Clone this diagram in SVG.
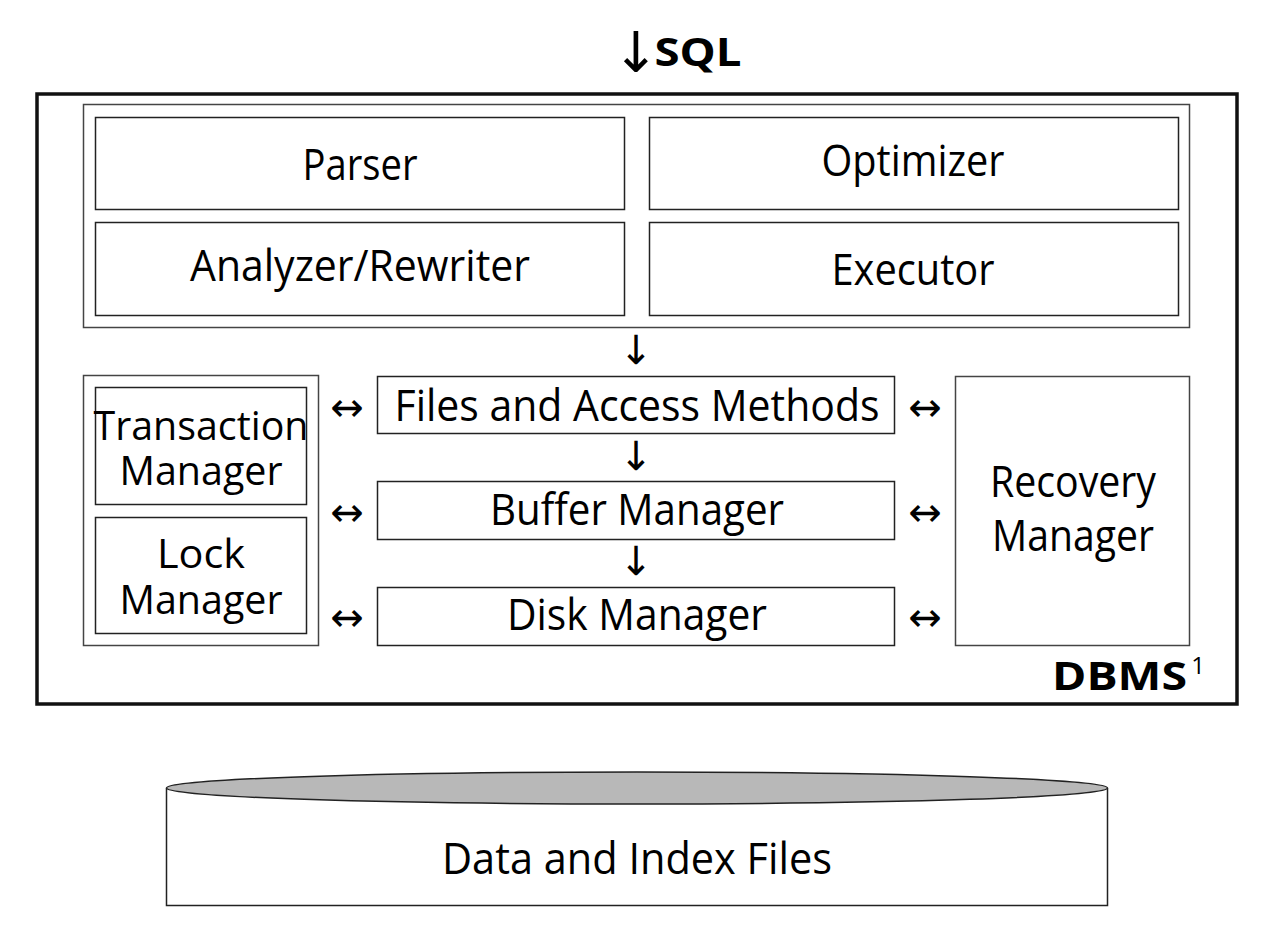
<svg xmlns="http://www.w3.org/2000/svg" width="1272" height="931" viewBox="0 0 1272 931">
<style>
text{font-family:"Open Sans","DejaVu Sans",sans-serif;fill:#000;text-anchor:middle}
.lbl{font-size:43px}
.two{font-size:40px}
.box{fill:#fff;stroke:#222;stroke-width:1.5}
.grp{fill:#fff;stroke:#444;stroke-width:1.5}
.arr{font-size:40px;font-family:"DejaVu Sans",sans-serif}
.bold{font-weight:bold}
</style>
<rect width="1272" height="931" fill="#fff"/>
<g id="sql">
<text x="636" y="72" style="font-size:56px;font-family:'DejaVu Sans',sans-serif">↓</text>
<text x="698" y="66" class="bold" style="font-size:40px" textLength="87" lengthAdjust="spacingAndGlyphs">SQL</text>
</g>
<g id="dbms">
<rect x="37" y="94" width="1200" height="610" fill="#fff" stroke="#111" stroke-width="3.5"/>
<text x="1187" y="690" class="bold" style="font-size:40px;text-anchor:end" textLength="135" lengthAdjust="spacingAndGlyphs">DBMS</text>
<text x="1198" y="674" style="font-size:24px">1</text>
</g>
<g id="query-group"><rect x="83.5" y="104.5" width="1106" height="223" class="grp"/></g>
<g id="parser"><rect x="95.5" y="117.5" width="529" height="92" class="box"/><text x="360" y="180" class="lbl" textLength="115" lengthAdjust="spacingAndGlyphs">Parser</text></g>
<g id="optimizer"><rect x="649.5" y="117.5" width="529" height="92" class="box"/><text x="913" y="176" class="lbl" textLength="183" lengthAdjust="spacingAndGlyphs">Optimizer</text></g>
<g id="analyzer"><rect x="95.5" y="222.5" width="529" height="93" class="box"/><text x="360" y="281" class="lbl" textLength="340" lengthAdjust="spacingAndGlyphs">Analyzer/Rewriter</text></g>
<g id="executor"><rect x="649.5" y="222.5" width="529" height="93" class="box"/><text x="913" y="285" class="lbl" textLength="163" lengthAdjust="spacingAndGlyphs">Executor</text></g>
<g id="left-group"><rect x="83.5" y="375.5" width="235" height="270" class="grp"/></g>
<g id="transaction"><rect x="95.5" y="387.5" width="211" height="117" class="box"/><text x="201" y="440" class="two" textLength="215" lengthAdjust="spacingAndGlyphs">Transaction</text><text x="201" y="485" class="two" textLength="163" lengthAdjust="spacingAndGlyphs">Manager</text></g>
<g id="lock"><rect x="95.5" y="517.5" width="211" height="116" class="box"/><text x="201" y="568" class="two" textLength="88" lengthAdjust="spacingAndGlyphs">Lock</text><text x="201" y="614" class="two" textLength="163" lengthAdjust="spacingAndGlyphs">Manager</text></g>
<g id="files"><rect x="377.5" y="376.5" width="517" height="57" class="box"/><text x="637" y="421" class="lbl" textLength="485" lengthAdjust="spacingAndGlyphs">Files and Access Methods</text></g>
<g id="buffer"><rect x="377.5" y="481.5" width="517" height="58" class="box"/><text x="637" y="525" class="lbl" textLength="294" lengthAdjust="spacingAndGlyphs">Buffer Manager</text></g>
<g id="disk"><rect x="377.5" y="587.5" width="517" height="58" class="box"/><text x="637" y="630" class="lbl" textLength="260" lengthAdjust="spacingAndGlyphs">Disk Manager</text></g>
<g id="recovery"><rect x="955.5" y="376.5" width="234" height="269" class="grp"/><text x="1073" y="497" class="lbl" textLength="166" lengthAdjust="spacingAndGlyphs">Recovery</text><text x="1073" y="551" class="lbl" textLength="162" lengthAdjust="spacingAndGlyphs">Manager</text></g>
<g id="connectors">
<text x="636" y="364" class="arr">↓</text>
<text x="636" y="470" class="arr">↓</text>
<text x="636" y="575" class="arr">↓</text>
<text x="347" y="421" class="arr">↔</text>
<text x="347" y="526" class="arr">↔</text>
<text x="347" y="631" class="arr">↔</text>
<text x="925" y="421" class="arr">↔</text>
<text x="925" y="526" class="arr">↔</text>
<text x="925" y="631" class="arr">↔</text>
</g>
<g id="storage">
<path d="M166.5 788 L166.5 905.5 L1107.5 905.5 L1107.5 788" fill="#fff" stroke="#222" stroke-width="1.5"/>
<ellipse cx="637" cy="788" rx="470.5" ry="16" fill="#b8b8b8" stroke="#222" stroke-width="1.5"/>
<text x="637" y="874" class="lbl" textLength="390" lengthAdjust="spacingAndGlyphs">Data and Index Files</text>
</g>
</svg>
